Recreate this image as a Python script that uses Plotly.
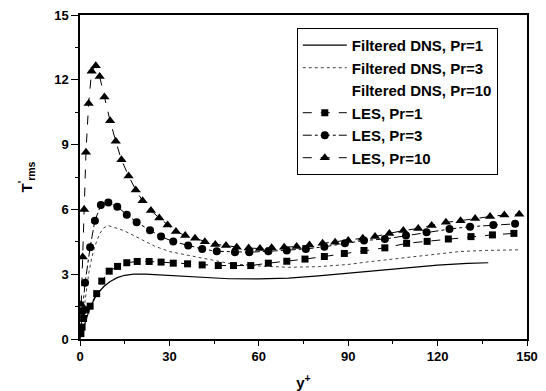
import plotly.graph_objects as go

# ---- data ----
x_dns1 = [0, 1, 2, 3, 4, 5, 6.5, 8, 10, 12.5, 15, 18, 22, 26, 30, 35, 40, 50, 60, 70, 80, 90, 100, 110, 120, 130, 137]
y_dns1 = [0, 0.45, 0.9, 1.3, 1.62, 1.9, 2.2, 2.43, 2.65, 2.84, 2.95, 3.0, 3.0, 2.97, 2.93, 2.88, 2.84, 2.79, 2.78, 2.82, 2.92, 3.05, 3.18, 3.32, 3.42, 3.5, 3.53]

x_dns3 = [0, 1, 2, 3, 4, 5, 6.5, 8, 9.5, 11, 13, 15, 20, 25, 30, 37, 44, 50, 60, 70, 80, 90, 96, 103, 110, 120, 127.5, 136, 147]
y_dns3 = [0, 1.1, 2.2, 3.1, 3.8, 4.3, 4.85, 5.15, 5.25, 5.2, 5.1, 5.0, 4.65, 4.3, 4.05, 3.85, 3.65, 3.5, 3.38, 3.32, 3.35, 3.45, 3.56, 3.67, 3.78, 3.95, 4.05, 4.1, 4.13]

x_dns10 = [None]
y_dns10 = [None]

x_les1 = [0.3, 0.7, 1.2, 2.0, 3.4, 5.6, 7.3, 9.8, 12.6, 15.7, 19.2, 23.2, 27.2, 31.3, 36.1, 41.0, 46.4, 51.5, 57.3, 63.2, 69.4, 75.5, 82.0, 88.7, 95.3, 102.3, 109.6, 116.5, 123.6, 131.2, 138.4, 145.6]
y_les1 = [0.25, 0.55, 0.95, 1.35, 1.52, 2.1, 2.68, 3.14, 3.36, 3.53, 3.59, 3.59, 3.56, 3.51, 3.48, 3.43, 3.4, 3.4, 3.4, 3.51, 3.6, 3.7, 3.82, 3.96, 4.1, 4.22, 4.43, 4.52, 4.63, 4.74, 4.82, 4.89]

x_les3 = [0.3, 0.8, 1.7, 3.4, 5.0, 7.0, 9.5, 12.5, 15.7, 19.0, 23.5, 27.2, 31.3, 36.3, 41.0, 45.9, 52.0, 56.8, 63.2, 69.4, 75.8, 82.0, 88.9, 95.3, 102.3, 109.4, 116.3, 124.0, 130.9, 138.7, 146.0]
y_les3 = [0.5, 1.3, 2.6, 4.25, 5.48, 6.2, 6.32, 6.12, 5.75, 5.4, 5.04, 4.74, 4.51, 4.33, 4.17, 4.06, 4.02, 4.02, 4.06, 4.1, 4.17, 4.27, 4.43, 4.56, 4.63, 4.79, 4.94, 5.09, 5.2, 5.28, 5.33]

x_les10 = [0.4, 0.9, 1.4, 2.0, 2.9, 3.9, 5.3, 6.6, 8.2, 10.1, 12.0, 13.9, 16.3, 18.7, 21.0, 23.8, 26.6, 29.4, 32.2, 35.3, 38.6, 41.9, 45.4, 49.0, 52.6, 56.6, 60.4, 64.3, 68.5, 72.7, 77.0, 81.4, 85.6, 90.0, 94.9, 99.0, 103.8, 108.5, 113.5, 118.0, 122.8, 127.7, 132.6, 137.6, 142.4, 147.4]
y_les10 = [1.6, 3.8, 6.0, 8.65, 10.9, 12.4, 12.65, 12.15, 11.2, 10.1, 9.15, 8.3, 7.55, 6.9, 6.4, 5.95, 5.6, 5.28, 4.98, 4.79, 4.66, 4.5, 4.38, 4.33, 4.25, 4.21, 4.19, 4.22, 4.25, 4.28, 4.35, 4.43, 4.48, 4.56, 4.66, 4.74, 4.89, 5.02, 5.12, 5.25, 5.4, 5.48, 5.58, 5.67, 5.74, 5.78]

x_ticks = [0, 30, 60, 90, 120, 150]
y_ticks = [0, 3, 6, 9, 12, 15]

FONT = "Liberation Sans, Arial, sans-serif"

fig = go.Figure()
fig.add_trace(go.Scatter(x=x_dns1, y=y_dns1, mode="lines", name="Filtered DNS, Pr=1",
                         line=dict(color="black", width=1.2)))
fig.add_trace(go.Scatter(x=x_dns3, y=y_dns3, mode="lines", name="Filtered DNS, Pr=3",
                         line=dict(color="#444", width=1, dash="dot")))
fig.add_trace(go.Scatter(x=x_dns10, y=y_dns10, mode="lines", name="Filtered DNS, Pr=10",
                         line=dict(color="rgba(0,0,0,0)", width=1, dash="dashdot")))
fig.add_trace(go.Scatter(x=x_les1, y=y_les1, mode="lines+markers", name="LES, Pr=1",
                         line=dict(color="black", width=1, dash="dash"),
                         marker=dict(symbol="square", size=7, color="black")))
fig.add_trace(go.Scatter(x=x_les3, y=y_les3, mode="lines+markers", name="LES, Pr=3",
                         line=dict(color="black", width=1, dash="dashdot"),
                         marker=dict(symbol="circle", size=8, color="black")))
fig.add_trace(go.Scatter(x=x_les10, y=y_les10, mode="lines+markers", name="LES, Pr=10",
                         line=dict(color="black", width=1, dash="dash"),
                         marker=dict(symbol="triangle-up", size=9, color="black")))

axis_common = dict(showgrid=False, zeroline=False, linecolor="black", linewidth=1.5,
                   tickcolor="black", automargin=False, ticklabeloverflow="allow",
                   tickfont=dict(family=FONT, size=13, color="black", weight="bold"))

# the page body adds an 8px margin, so the figure is 8px smaller and offset accordingly
fig.update_layout(
    width=538, height=383,
    margin=dict(l=72, r=19, t=7, b=52),
    paper_bgcolor="white", plot_bgcolor="white",
    font=dict(family=FONT, size=15, color="black"),
    xaxis=dict(range=[0, 150], tickvals=x_ticks, ticks="outside", ticklen=5,
               minor=dict(dtick=15, ticks="outside", ticklen=3, tickcolor="black"),
               mirror=True, title=dict(text="y<sup>+</sup>", font=dict(family=FONT, size=15, weight="bold"), standoff=14),
               **axis_common),
    yaxis=dict(range=[0, 15], tickvals=y_ticks, ticks="outside", ticklen=7,
               minor=dict(dtick=1.5, ticks="outside", ticklen=3, tickcolor="black"),
               mirror=True, title=dict(text="T<sup>'</sup><sub>rms</sub>", font=dict(family=FONT, size=15, weight="bold"), standoff=18),
               **axis_common),
    xaxis2=dict(range=[0, 150], overlaying="x", side="top", anchor="y", tickvals=x_ticks,
                ticks="inside", ticklen=6, tickcolor="black", showticklabels=False,
                showgrid=False, zeroline=False, showline=False, automargin=False,
                minor=dict(dtick=15, ticks="inside", ticklen=3, tickcolor="black")),
    yaxis2=dict(range=[0, 15], overlaying="y", side="right", anchor="x", tickvals=y_ticks,
                ticks="inside", ticklen=6, tickcolor="black", showticklabels=False,
                showgrid=False, zeroline=False, showline=False, automargin=False,
                minor=dict(dtick=1.5, ticks="inside", ticklen=3, tickcolor="black")),
    legend=dict(x=0.485, y=0.96, xanchor="left", yanchor="top",
                bgcolor="white", bordercolor="black", borderwidth=1, itemwidth=44,
                font=dict(family=FONT, size=15, color="black", weight="bold"), tracegroupgap=0),
    showlegend=True,
)

fig.write_html("out.html")
